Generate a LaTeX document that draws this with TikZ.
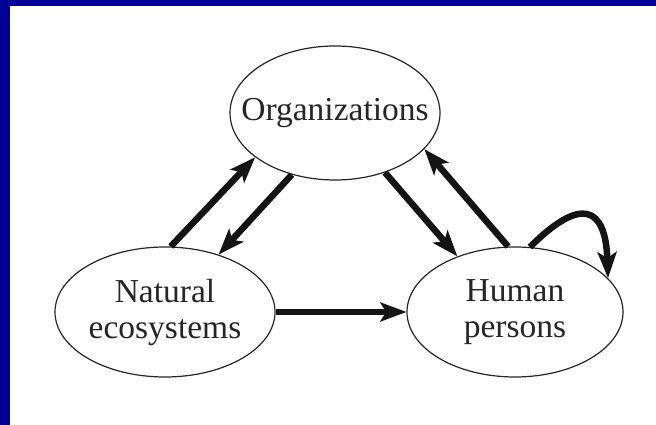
\documentclass[tikz,border=0pt]{standalone}
\usepackage{fontspec}
\setmainfont{Liberation Serif}
\usetikzlibrary{shapes}
\usetikzlibrary{arrows.meta}
\definecolor{frameblue}{RGB}{0,0,153}
\tikzset{
	main node/.style={ellipse,draw=black!85,line width=1.2pt,inner sep=0pt},
	name text/.style={font=\fontsize{33.5}{36}\selectfont,align=center,text=black!85},
	link/.style={line width=6.5pt,draw=black!92}
}

\begin{document}
\begin{tikzpicture}[x=1pt,y=1pt,->,>={Stealth[length=26pt,width=19pt,inset=6pt]}]
	\useasboundingbox (0,0) rectangle (656,425);
	\fill [white] (0,0) rectangle (656,425);
	\fill [frameblue] (0,0) rectangle (10,425);
	\fill [frameblue] (0,419) rectangle (656,425);
	\node [main node,minimum width=210pt,minimum height=134pt,
		label={[name text]center:Organizations}] (org) at (335,312) {};
	\node [main node,minimum width=220pt,minimum height=130pt,
		label={[name text]center:{Natural\\ecosystems}}] (nat) at (165,113) {};
	\node [main node,minimum width=216pt,minimum height=130pt,
		label={[name text]center:{Human\\persons}}] (hum) at (515,113) {};
	\draw [link] (nat.85) -- (org.209);
	\draw [link] (org.235) -- (nat.47);
	\draw [link] (org.310) -- (hum.136);
	\draw [link] (hum.96) -- (org.338);
	\draw [link] (nat.east) -- (hum.west);
	\draw [link] (hum.77) to[out=45,in=92,looseness=2.2] (hum.20);
\end{tikzpicture}
\end{document}
